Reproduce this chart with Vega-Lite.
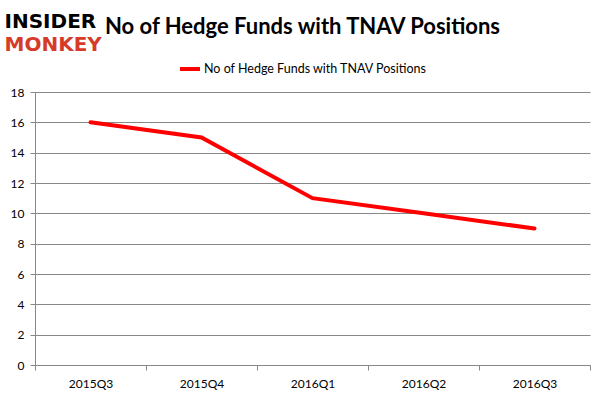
{
  "$schema": "https://vega.github.io/schema/vega-lite/v6.json",
  "width": 555,
  "height": 273,
  "autosize": {"type": "none"},
  "padding": {"left": 35, "top": 92, "right": 10, "bottom": 37},
  "background": "white",
  "title": {
    "text": "No of Hedge Funds with TNAV Positions",
    "font": "Lato",
    "fontSize": 22,
    "fontWeight": "bold",
    "color": "#000000",
    "anchor": "middle",
    "dx": -10,
    "offset": -28
  },
  "data": {
    "values": [
      {"quarter": "2015Q3", "funds": 16, "series": "No of Hedge Funds with TNAV Positions"},
      {"quarter": "2015Q4", "funds": 15, "series": "No of Hedge Funds with TNAV Positions"},
      {"quarter": "2016Q1", "funds": 11, "series": "No of Hedge Funds with TNAV Positions"},
      {"quarter": "2016Q2", "funds": 10, "series": "No of Hedge Funds with TNAV Positions"},
      {"quarter": "2016Q3", "funds": 9, "series": "No of Hedge Funds with TNAV Positions"}
    ]
  },
  "mark": {"type": "line", "strokeWidth": 4, "strokeCap": "round"},
  "encoding": {
    "x": {
      "field": "quarter",
      "type": "ordinal",
      "scale": {"type": "band", "paddingInner": 0, "paddingOuter": 0},
      "axis": {
        "title": "MONKEY",
        "titleColor": "#d63b2a",
        "titleFont": "DejaVu Sans",
        "titleFontSize": 20,
        "titleFontWeight": "bold",
        "titleAlign": "left",
        "titleBaseline": "alphabetic",
        "titleAnchor": null,
        "titleX": -31,
        "titleY": -315,
        "labelAngle": 0,
        "labelFont": "Lato",
        "labelFontSize": 12,
        "labelColor": "#000000",
        "labelPadding": 8,
        "tickBand": "extent",
        "tickColor": "#888888",
        "tickSize": 5,
        "domainColor": "#888888",
        "grid": false
      }
    },
    "y": {
      "field": "funds",
      "type": "quantitative",
      "scale": {"domain": [0, 18], "nice": false},
      "axis": {
        "title": "INSIDER",
        "titleColor": "#000000",
        "titleFont": "DejaVu Sans",
        "titleFontSize": 20,
        "titleFontWeight": "bold",
        "titleAngle": 0,
        "titleAlign": "left",
        "titleBaseline": "alphabetic",
        "titleAnchor": null,
        "titleX": -31,
        "titleY": -65,
        "values": [0, 2, 4, 6, 8, 10, 12, 14, 16, 18],
        "labelFont": "Lato",
        "labelFontSize": 12,
        "labelColor": "#000000",
        "labelPadding": 6,
        "tickColor": "#888888",
        "tickSize": 5,
        "domainColor": "#888888",
        "gridColor": "#888888",
        "gridOpacity": 1,
        "grid": true
      }
    },
    "color": {
      "field": "series",
      "type": "nominal",
      "scale": {"range": ["#ff0000"]},
      "legend": {
        "title": null,
        "orient": "none",
        "legendX": 143,
        "legendY": -35,
        "symbolType": "stroke",
        "symbolStrokeWidth": 4,
        "symbolSize": 400,
        "labelFont": "Lato",
        "labelFontSize": 12.5,
        "labelColor": "#000000",
        "labelOffset": 2,
        "labelLimit": 0
      }
    }
  },
  "config": {"view": {"stroke": null}}
}
